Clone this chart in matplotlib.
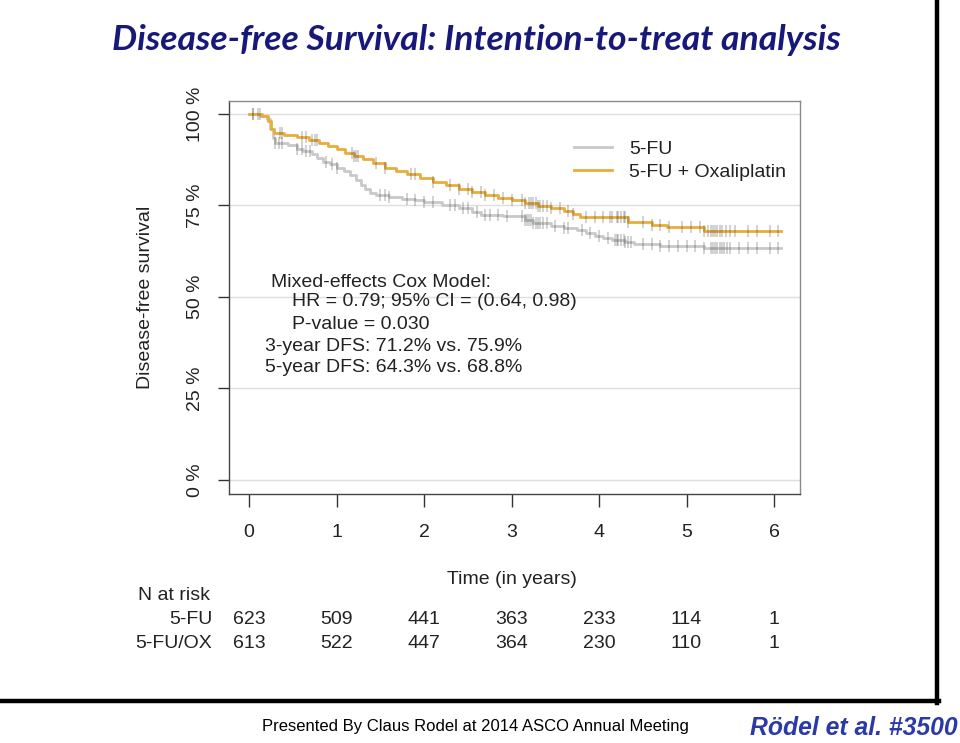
import numpy as np
import matplotlib
matplotlib.use("Agg")
import matplotlib.pyplot as plt
from matplotlib.lines import Line2D
from matplotlib import font_manager

# ---------------- data ----------------
fu_times = [0, 0.12, 0.2, 0.24, 0.27, 0.3, 0.45, 0.55, 0.62, 0.72, 0.78, 0.85, 0.92,
            1.0, 1.08, 1.15, 1.22, 1.28, 1.33, 1.38, 1.45, 1.6, 1.75, 1.9, 2.0, 2.2,
            2.4, 2.55, 2.65, 2.9, 3.15, 3.25, 3.45, 3.6, 3.75, 3.85, 3.95, 4.05,
            4.15, 4.3, 4.4, 4.7, 5.2]
fu_surv = [100, 99.5, 98.5, 96.0, 93.5, 92.2, 91.5, 90.5, 89.8, 89.0, 88.0, 87.0, 86.2,
           85.2, 84.3, 83.2, 82.0, 80.6, 79.5, 78.5, 77.8, 77.3, 76.8, 76.4, 76.0, 75.2,
           74.2, 73.2, 72.4, 72.0, 71.0, 70.1, 69.5, 68.8, 68.2, 67.5, 66.8, 66.2,
           65.6, 65.0, 64.4, 64.0, 63.4]
ox_times = [0, 0.15, 0.22, 0.25, 0.28, 0.4, 0.55, 0.68, 0.8, 0.9, 1.0, 1.1, 1.2, 1.3,
            1.42, 1.55, 1.68, 1.8, 1.95, 2.1, 2.25, 2.4, 2.55, 2.7, 2.85, 3.0, 3.15,
            3.3, 3.45, 3.6, 3.7, 3.78, 4.33, 4.6, 4.78, 5.2]
ox_surv = [100, 99.5, 98.0, 96.0, 94.8, 94.3, 93.8, 93.0, 92.2, 91.2, 90.3, 89.3, 88.4,
           87.6, 86.5, 85.3, 84.3, 83.5, 82.5, 81.5, 80.6, 79.6, 78.7, 77.8, 77.1, 76.4,
           75.6, 74.8, 74.2, 73.4, 72.6, 71.9, 70.5, 69.8, 69.0, 68.0]
follow_up_end = 6.08

fu_censor = [0.05, 0.1, 0.3, 0.34, 0.38, 0.55, 0.6, 0.65, 0.7, 0.88, 0.95, 1.0, 1.5,
             1.55, 1.6, 1.8, 1.9, 2.0, 2.1, 2.3, 2.35, 2.45, 2.5, 2.6, 2.7, 2.75, 2.85,
             2.95, 3.12, 3.15, 3.18, 3.2, 3.22, 3.25, 3.28, 3.3, 3.33, 3.36, 3.4, 3.5,
             3.6, 3.65, 3.8, 3.9, 4.0, 4.1, 4.18, 4.2, 4.22, 4.25, 4.28, 4.3, 4.33,
             4.36, 4.5, 4.6, 4.7, 4.8, 4.9, 5.0, 5.1, 5.2, 5.28, 5.3, 5.32, 5.35, 5.38,
             5.4, 5.43, 5.46, 5.5, 5.6, 5.7, 5.8, 5.95, 6.05]
ox_censor = [0.05, 0.12, 0.35, 0.38, 0.6, 0.65, 0.72, 0.75, 0.78, 1.18, 1.2, 1.22, 1.25,
             1.45, 1.55, 1.85, 1.9, 2.1, 2.3, 2.4, 2.5, 2.55, 2.65, 2.7, 2.8, 2.9, 3.0,
             3.12, 3.15, 3.2, 3.22, 3.25, 3.28, 3.3, 3.33, 3.36, 3.4, 3.45, 3.55, 3.65,
             3.7, 3.85, 3.95, 4.05, 4.12, 4.15, 4.2, 4.22, 4.25, 4.28, 4.3, 4.33, 4.5,
             4.6, 4.7, 4.8, 4.95, 5.05, 5.15, 5.2, 5.25, 5.28, 5.3, 5.32, 5.35, 5.38,
             5.4, 5.45, 5.5, 5.55, 5.7, 5.8, 5.95, 6.05]

risk_times = [0, 1, 2, 3, 4, 5, 6]
risk_fu = [623, 509, 441, 363, 233, 114, 1]
risk_ox = [613, 522, 447, 364, 230, 110, 1]
ytick_vals = [0, 25, 50, 75, 100]
ytick_labels = ["0 %", "25 %", "50 %", "75 %", "100 %"]
series_names = ["5-FU", "5-FU + Oxaliplatin"]
row_names = ["5-FU", "5-FU/OX"]
annot_lines = ["Mixed-effects Cox Model:",
               "HR = 0.79; 95% CI = (0.64, 0.98)",
               "P-value = 0.030",
               "3-year DFS: 71.2% vs. 75.9%",
               "5-year DFS: 64.3% vs. 68.8%"]

# ---------------- style ----------------
def has_font(name):
    try:
        font_manager.findfont(name, fallback_to_default=False)
        return True
    except Exception:
        return False

plt.rcParams['font.family'] = ['Liberation Sans', 'DejaVu Sans']
narrow = 'Liberation Sans Narrow' if has_font('Liberation Sans Narrow') else 'Liberation Sans'

W, H = 960, 743
fig = plt.figure(figsize=(W / 100, H / 100), dpi=100)
fig.patch.set_facecolor('white')

def fx(px):
    return px / W

def fy(py):
    return 1 - py / H

ax = fig.add_axes([fx(229), fy(494), fx(800) - fx(229), fy(101) - fy(494)])
ax.set_xlim(-0.229, 6.297)
ax.set_ylim(-3.83, 103.55)

GRAY = '#c9c9c9'
ORANGE = '#e9ad3c'

for y in ytick_vals:
    ax.axhline(y, color='#dedede', lw=1, zorder=0)

def step_xy(t, s, end):
    return np.append(t, end), np.append(s, s[-1])

def surv_at(t, s, c):
    t = np.asarray(t)
    idx = np.searchsorted(t, np.asarray(c), side='right') - 1
    return np.asarray(s)[idx]

x1, y1 = step_xy(fu_times, fu_surv, follow_up_end)
x2, y2 = step_xy(ox_times, ox_surv, follow_up_end)
l1, = ax.step(x1, y1, where='post', color=GRAY, lw=2, zorder=2)
l2, = ax.step(x2, y2, where='post', color=ORANGE, lw=2, zorder=3)

ax.plot(fu_censor, surv_at(fu_times, fu_surv, fu_censor), ls='none', marker='|',
        ms=9, mew=1.1, color='#333333', alpha=0.28, zorder=4)
ax.plot(ox_censor, surv_at(ox_times, ox_surv, ox_censor), ls='none', marker='|',
        ms=9, mew=1.1, color='#333333', alpha=0.28, zorder=4)

# axes styling
for side in ['top', 'right']:
    ax.spines[side].set_color('#8a8a8a')
for side in ['left', 'bottom']:
    ax.spines[side].set_color('#444444')
for sp in ax.spines.values():
    sp.set_linewidth(1)

ax.set_xticks(risk_times)
ax.set_xticklabels([str(v) for v in risk_times])
ax.set_yticks(ytick_vals)
ax.set_yticklabels(ytick_labels, rotation=90, va='center')
ax.tick_params(axis='x', length=9, width=1, color='#333333', pad=12.5, labelsize=14,
               labelcolor='#222222')
ax.tick_params(axis='y', length=8, width=1, color='#333333', pad=10, labelsize=14,
               labelcolor='#222222')

ax.set_ylabel('Disease-free survival', fontsize=14, color='#222222')
ax.yaxis.set_label_coords((145 - 229) / 571, 0.5)
ax.yaxis.label.set_va('center')
ax.set_xlabel('Time (in years)', fontsize=14, color='#222222')
ax.xaxis.label.set_va('center')
ax.xaxis.set_label_coords((512 - 229) / 571, (494 - 580) / 393)

# legend
leg = ax.legend([l1, l2], series_names, loc='upper left',
                bbox_to_anchor=((574 - 229) / 571, (494 - 140) / 393),
                frameon=False, fontsize=14, handlelength=1.95, handletextpad=0.9,
                labelspacing=0.3, borderpad=0, borderaxespad=0)
for txt in leg.get_texts():
    txt.set_color('#222222')

# annotation text
annot_x = [0.25, 0.49, 0.49, 0.18, 0.18]
annot_y = [54.0, 48.7, 42.4, 36.6, 30.6]
for tx, ty, s in zip(annot_x, annot_y, annot_lines):
    ax.text(tx, ty, s, fontsize=14, ha='left', va='center', color='#222222')

# number at risk table
trans = ax.get_xaxis_transform()
ax.text((138 - 229) / 571, (494 - 595) / 393, 'N at risk', transform=ax.transAxes,
        fontsize=14, ha='left', va='center', color='#222222')
for row_y, name, vals in [((494 - 620) / 393, row_names[0], risk_fu),
                          ((494 - 643) / 393, row_names[1], risk_ox)]:
    ax.text((212 - 229) / 571, row_y, name, transform=ax.transAxes, fontsize=14,
            ha='right', va='center', color='#222222')
    for t, v in zip(risk_times, vals):
        ax.text(t, row_y, str(v), transform=trans, fontsize=14, ha='center',
                va='center', color='#222222')

# title
title = fig.text(fx(112), fy(40), 'Disease-free Survival: Intention-to-treat analysis',
                 fontsize=26, fontweight='bold', fontstyle='italic',
                 family=['Lato', 'DejaVu Sans'], color='#17187a', ha='left', va='center')
fig.canvas.draw()
r = fig.canvas.get_renderer()
bb = title.get_window_extent(r)
title.set_fontsize(26 * 728 / bb.width)

# slide border
fig.add_artist(Line2D([fx(937), fx(937)], [1.0, fy(703)], color='black', lw=3.2))
fig.add_artist(Line2D([0, fx(938.5)], [fy(701), fy(701)], color='black', lw=3.2))

# footer
foot = fig.text(fx(262), fy(726), 'Presented By Claus Rodel at 2014 ASCO Annual Meeting',
                fontsize=13, family=[narrow, 'DejaVu Sans'], color='black',
                ha='left', va='center')
fig.canvas.draw()
bb = foot.get_window_extent(fig.canvas.get_renderer())
foot.set_fontsize(13 * 424 / bb.width)

cite = fig.text(fx(750), fy(728), 'Rödel et al. #3500', fontsize=20, fontweight='bold',
                fontstyle='italic', family=[narrow, 'DejaVu Sans'], color='#2b3aa6',
                ha='left', va='center')
fig.canvas.draw()
bb = cite.get_window_extent(fig.canvas.get_renderer())
cite.set_fontsize(20 * 208 / bb.width)

fig.savefig('out.png', dpi=100)
